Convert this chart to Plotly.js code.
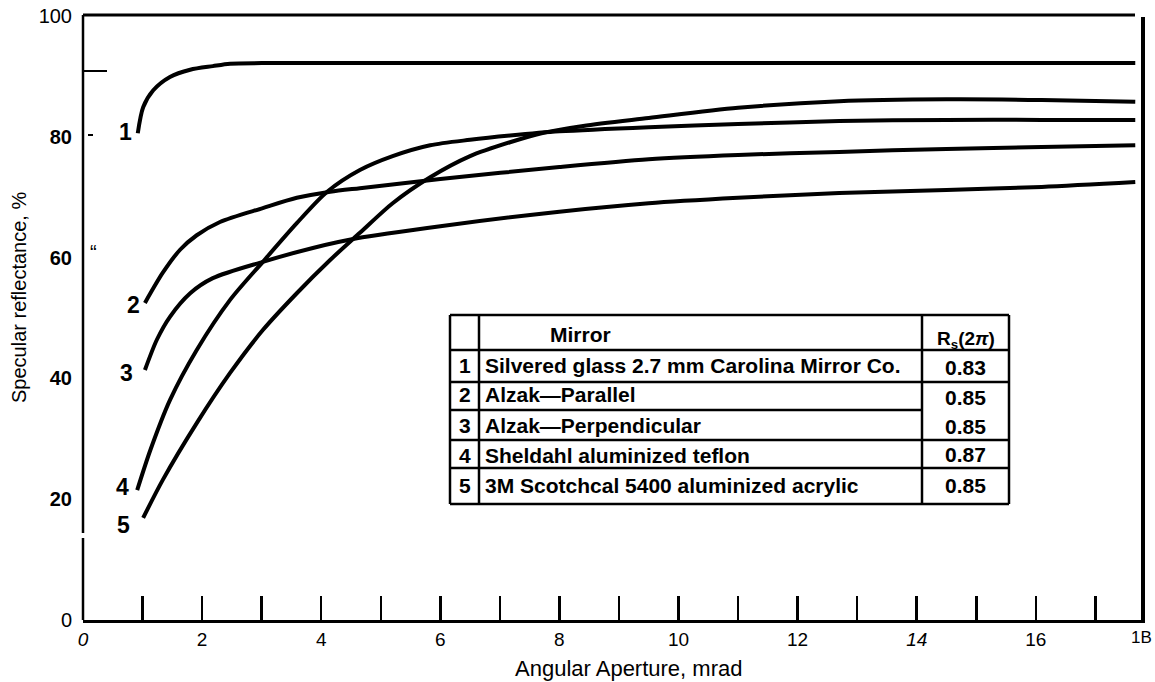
<!DOCTYPE html>
<html>
<head>
<meta charset="utf-8">
<script src="https://cdn.plot.ly/plotly-3.0.1.min.js"></script>
<style>
  html, body { margin: 0; padding: 0; background: #ffffff; }
  #chart { width: 1155px; height: 682px; }
</style>
</head>
<body>
<div id="chart"></div>
<script>
// ---- Data ----
const curveIds = ["1", "2", "3", "4", "5"];

const c1x = [0.92, 1.01, 1.18, 1.46, 1.80, 2.18, 2.47, 3.0, 5.0, 8.0, 12.0, 17.67];
const c1y = [80.6, 84.9, 87.7, 89.9, 91.1, 91.7, 92.1, 92.2, 92.2, 92.2, 92.2, 92.2];

const c2x = [1.04, 1.34, 1.63, 1.91, 2.30, 3.02, 3.59, 4.15, 4.65, 6.0, 8.0, 9.5, 11.0, 12.7, 14.5, 16.1, 17.67];
const c2y = [52.5, 57.5, 61.3, 63.7, 65.9, 68.2, 69.9, 70.9, 71.5, 73.0, 75.0, 76.3, 77.0, 77.5, 78.0, 78.3, 78.6];

const c3x = [1.04, 1.24, 1.46, 1.80, 2.18, 3.02, 3.86, 4.60, 6.0, 8.0, 9.5, 11.0, 12.7, 14.5, 16.1, 17.67];
const c3y = [41.4, 46.4, 50.2, 54.1, 56.6, 59.3, 61.6, 63.2, 65.2, 67.6, 69.0, 69.9, 70.7, 71.2, 71.7, 72.5];

const c4x = [0.91, 1.13, 1.46, 1.91, 2.47, 3.02, 3.59, 4.10, 4.65, 5.2, 5.83, 6.5, 7.17, 8.0, 9.5, 11.0, 12.7, 14.5, 16.1, 17.67];
const c4y = [21.5, 28.1, 36.4, 44.7, 53.0, 59.3, 65.7, 70.9, 74.5, 76.8, 78.6, 79.5, 80.2, 80.9, 81.6, 82.1, 82.6, 82.8, 82.8, 82.8];

const c5x = [1.01, 1.34, 1.91, 2.47, 3.02, 3.59, 4.15, 4.65, 5.2, 5.83, 6.5, 7.17, 7.7, 8.4, 9.5, 11.0, 12.7, 14.5, 16.1, 17.67];
const c5y = [16.9, 23.2, 32.6, 40.9, 48.0, 54.1, 59.6, 64.1, 69.0, 73.3, 76.8, 79.1, 80.6, 81.8, 83.1, 84.8, 85.9, 86.2, 86.1, 85.8];

const xTickVals = [0, 2, 4, 6, 8, 10, 12, 14, 16];
const xTickText = ["<i>0</i>", "2", "4", "6", "8", "10", "12", "<i>14</i>", "16"];
const xMinorVals = [1, 3, 5, 7, 9, 11, 13, 15, 17];
const xLastLabel = "1B";
const yTickVals = [0, 20, 40, 60, 80, 100];
const yTickText = ["0", "<b>20</b>", "<b>40</b>", "<b>60</b>", "<b>80</b>", "100"];
const xTitle = "Angular Aperture, mrad";
const yTitle = "Specular reflectance, %";

const tableNums = ["1", "2", "3", "4", "5"];
const tableMirrors = [
  "Silvered glass 2.7 mm Carolina Mirror Co.",
  "Alzak\u2014Parallel",
  "Alzak\u2014Perpendicular",
  "Sheldahl aluminized teflon",
  "3M Scotchcal 5400 aluminized acrylic"
];
const tableRs = ["0.83", "0.85", "0.85", "0.87", "0.85"];
const headMirror = "Mirror";
const headRs = "R<sub>s</sub>(2<i>\u03c0</i>)";

// ---- Layout geometry (pixels -> paper) ----
const W = 1155, H = 682;
const M = {l: 83, r: 12, t: 16, b: 62};
const PW = W - M.l - M.r, PH = H - M.t - M.b;
const px = v => (v - M.l) / PW;
const py = v => (H - M.b - v) / PH;

const FONT = "Liberation Sans, Arial, Helvetica, sans-serif";
const xs = [c1x, c2x, c3x, c4x, c5x];
const ys = [c1y, c2y, c3y, c4y, c5y];

const traces = xs.map((x, i) => ({
  x: x, y: ys[i], type: "scatter", mode: "lines",
  line: {color: "#000", width: 4, shape: "spline", smoothing: 0.8},
  hoverinfo: "skip", showlegend: false, cliponaxis: false
}));

const labelShift = [[-12, 1], [-11, -2], [-18, -3], [-15, 3], [-20, -7]];
const annotations = curveIds.map((id, i) => ({
  x: xs[i][0], y: ys[i][0], xref: "x", yref: "y", text: "<b>" + id + "</b>",
  showarrow: false, xanchor: "center", yanchor: "middle",
  xshift: labelShift[i][0], yshift: labelShift[i][1],
  font: {family: FONT, size: 23, color: "#000"}
}));

// axis titles
annotations.push({x: px(628), y: py(668), xref: "paper", yref: "paper", text: xTitle, showarrow: false,
  xanchor: "center", yanchor: "middle", font: {family: FONT, size: 22, color: "#000"}});
annotations.push({x: px(19), y: py(298), xref: "paper", yref: "paper", text: yTitle, showarrow: false,
  textangle: -90, xanchor: "center", yanchor: "middle", font: {family: FONT, size: 20, color: "#000"}});

// last x tick label (scan shows "1B")
annotations.push({x: px(1141), y: py(637), xref: "paper", yref: "paper", text: xLastLabel, showarrow: false,
  xanchor: "center", yanchor: "middle",
  font: {family: FONT, size: 17, color: "#000"}});
// stray mark near 60
annotations.push({x: px(93), y: py(252), xref: "paper", yref: "paper", text: "\u201c", showarrow: false,
  xanchor: "center", yanchor: "middle",
  font: {family: FONT, size: 20, color: "#000"}});

// table
const tL = 450, tN = 479, tR = 922, tE = 1009;
const rowY = [315, 350, 382, 410, 440, 468, 504];
const textY = [365, 395, 425, 455, 485];
const rsY = [367, 397, 426, 454, 485];
const tfont = {family: FONT, size: 21, color: "#000"};
annotations.push({x: px(548), y: py(334), xref: "paper", yref: "paper", text: "<b>" + headMirror + "</b>",
  showarrow: false, xanchor: "left", yanchor: "middle", font: tfont});
annotations.push({x: px(966), y: py(340), xref: "paper", yref: "paper", text: "<b>" + headRs + "</b>",
  showarrow: false, xanchor: "center", yanchor: "middle", font: {family: FONT, size: 19, color: "#000"}});
tableNums.forEach((n, i) => {
  annotations.push({x: px(465), y: py(textY[i]), xref: "paper", yref: "paper", text: "<b>" + n + "</b>",
    showarrow: false, xanchor: "center", yanchor: "middle", font: tfont});
  annotations.push({x: px(483), y: py(textY[i]), xref: "paper", yref: "paper", text: "<b>" + tableMirrors[i] + "</b>",
    showarrow: false, xanchor: "left", yanchor: "middle", font: tfont});
  annotations.push({x: px(965), y: py(rsY[i]), xref: "paper", yref: "paper", text: "<b>" + tableRs[i] + "</b>",
    showarrow: false, xanchor: "center", yanchor: "middle", font: tfont});
});

const L = (x0, y0, x1, y1, w) => ({type: "line", xref: "paper", yref: "paper",
  x0: px(x0), y0: py(y0), x1: px(x1), y1: py(y1), line: {color: "#000", width: w}});

const shapes = [
  // frame pieces
  L(83, 15, 1135, 15, 3),          // top line
  L(1143, 17, 1143, 623, 4),       // right line
  L(83, 15, 83, 533, 2.5),         // left axis upper
  L(83, 538, 83, 620, 2.5),        // left axis lower
  L(83, 71, 107, 71, 2),           // short mark near top
  L(88, 135, 93, 135, 2),          // small dash at 80
  // table box
  L(tL, rowY[0], tE, rowY[0], 2.5),
  L(tL, rowY[6], tE, rowY[6], 2.5),
  L(tL, rowY[0], tL, rowY[6], 2.5),
  L(tE, rowY[0], tE, rowY[6], 2.5),
  L(tN, rowY[0], tN, rowY[6], 2.5),
  L(tR, rowY[0], tR, rowY[6], 2.5),
  L(tL, rowY[1], tE, rowY[1], 2.5),
  L(tL, rowY[2], tE, rowY[2], 2.5),
  L(tL, rowY[3], tR, rowY[3], 2.5),
  L(tL, rowY[4], tE, rowY[4], 2.5),
  L(tL, rowY[5], tE, rowY[5], 2.5)
];

const layout = {
  width: W, height: H,
  margin: M,
  paper_bgcolor: "#fff", plot_bgcolor: "#fff",
  font: {family: FONT, color: "#000"},
  showlegend: false,
  xaxis: {
    range: [0, 17.8], showgrid: false, zeroline: false,
    showline: true, linecolor: "#000", linewidth: 3,
    tickmode: "array", tickvals: xTickVals, ticktext: xTickText,
    ticks: "inside", ticklen: 24, tickwidth: 2.5, tickcolor: "#000",
    minor: {tickmode: "array", tickvals: xMinorVals, ticks: "inside", ticklen: 24, tickwidth: 2.5, tickcolor: "#000", showgrid: false},
    tickfont: {family: FONT, size: 19, color: "#000"}
  },
  yaxis: {
    range: [0, 100], showgrid: false, zeroline: false, showline: false,
    tickmode: "array", tickvals: yTickVals, ticktext: yTickText,
    ticks: "", ticklabelstandoff: 10,
    tickfont: {family: FONT, size: 20, color: "#000"}
  },
  shapes: shapes,
  annotations: annotations
};

Plotly.newPlot("chart", traces, layout, {displayModeBar: false, staticPlot: true});
</script>
</body>
</html>
